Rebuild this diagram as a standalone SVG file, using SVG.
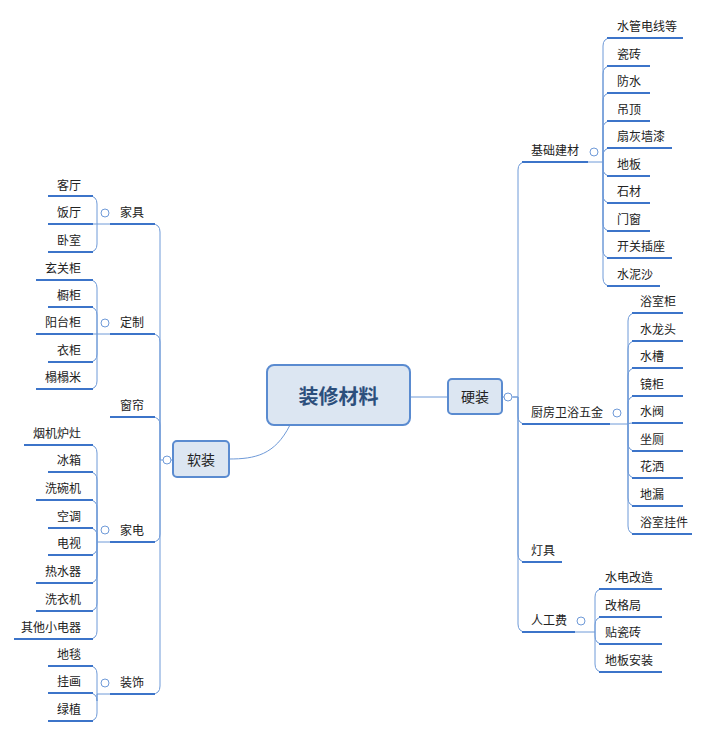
<svg xmlns="http://www.w3.org/2000/svg" width="710" height="736" viewBox="0 0 710 736">
<style>
text{font-family:"Noto Sans CJK SC","Liberation Sans",sans-serif;font-size:12px;fill:#222}
.l{text-anchor:end}
.c{fill:none;stroke:#6f9ad8;stroke-width:1}
.u{fill:none;stroke:#3c74c9;stroke-width:2}
.o{fill:#fff;stroke:#6f9ad8;stroke-width:1}
.box{fill:#dce6f2;stroke:#5a8bd0;stroke-width:2}
</style>
<rect width="710" height="736" fill="#fff"/>
<g id="connectors">
<path class="c" d="M410,397 H448"/>
<path class="c" d="M290,425 C275,455 255,459 229,459"/>
<path class="c" d="M502,397 H518"/>
<path class="c" d="M513,397 H518 V170 Q518,162 526,162"/>
<path class="c" d="M518,397 V416 Q518,424 526,424"/>
<path class="c" d="M518,397 V554 Q518,562 526,562"/>
<path class="c" d="M518,397 V624 Q518,632 526,632"/>
<path class="c" d="M588,162 H603 V46 Q603,38 611,38"/>
<path class="c" d="M603,162 V74 Q603,66 611,66"/>
<path class="c" d="M603,162 V101 Q603,93 611,93"/>
<path class="c" d="M603,162 V129 Q603,121 611,121"/>
<path class="c" d="M603,162 V156 Q603,148 611,148"/>
<path class="c" d="M603,162 V168 Q603,176 611,176"/>
<path class="c" d="M603,162 V195 Q603,203 611,203"/>
<path class="c" d="M603,162 V223 Q603,231 611,231"/>
<path class="c" d="M603,162 V250 Q603,258 611,258"/>
<path class="c" d="M603,162 V278 Q603,286 611,286"/>
<path class="c" d="M610,424 H628 V321 Q628,313 636,313"/>
<path class="c" d="M628,424 V349 Q628,341 636,341"/>
<path class="c" d="M628,424 V376 Q628,368 636,368"/>
<path class="c" d="M628,424 V404 Q628,396 636,396"/>
<path class="c" d="M628,424 Q628,423 636,423"/>
<path class="c" d="M628,424 V443 Q628,451 636,451"/>
<path class="c" d="M628,424 V470 Q628,478 636,478"/>
<path class="c" d="M628,424 V498 Q628,506 636,506"/>
<path class="c" d="M628,424 V526 Q628,534 636,534"/>
<path class="c" d="M575,632 H595 V597 Q595,589 603,589"/>
<path class="c" d="M595,632 V625 Q595,617 603,617"/>
<path class="c" d="M595,632 V636 Q595,644 603,644"/>
<path class="c" d="M595,632 V664 Q595,672 603,672"/>
<path class="c" d="M173,460 H160 V232 Q160,224 152,224"/>
<path class="c" d="M160,460 V342 Q160,334 152,334"/>
<path class="c" d="M160,460 V425 Q160,417 152,417"/>
<path class="c" d="M160,460 V534 Q160,542 152,542"/>
<path class="c" d="M160,460 V686 Q160,694 152,694"/>
<path class="c" d="M110,224 H97 V204 Q97,196 89,196"/>
<path class="c" d="M97,224 Q97,224 89,224"/>
<path class="c" d="M97,224 V244 Q97,252 89,252"/>
<path class="c" d="M110,334 H97 V288 Q97,280 89,280"/>
<path class="c" d="M97,334 V315 Q97,307 89,307"/>
<path class="c" d="M97,334 H89"/>
<path class="c" d="M97,334 V354 Q97,362 89,362"/>
<path class="c" d="M97,334 V381 Q97,389 89,389"/>
<path class="c" d="M110,542 H97 V453 Q97,445 89,445"/>
<path class="c" d="M97,542 V480 Q97,472 89,472"/>
<path class="c" d="M97,542 V508 Q97,500 89,500"/>
<path class="c" d="M97,542 V536 Q97,528 89,528"/>
<path class="c" d="M97,542 V547 Q97,555 89,555"/>
<path class="c" d="M97,542 V575 Q97,583 89,583"/>
<path class="c" d="M97,542 V603 Q97,611 89,611"/>
<path class="c" d="M97,542 V631 Q97,639 89,639"/>
<path class="c" d="M110,694 H97 V674 Q97,666 89,666"/>
<path class="c" d="M97,694 V701 Q97,693 89,693"/>
<path class="c" d="M97,694 V713 Q97,721 89,721"/>
</g>
<g id="center"><rect class="box" x="267" y="365" width="143" height="60" rx="7" stroke-width="4"/><text x="338.5" y="404" text-anchor="middle" style="font-size:20px;font-weight:bold;fill:#2c4f7c">装修材料</text></g>
<g id="hard"><rect class="box" x="448" y="379" width="54" height="35" rx="4"/><text x="475" y="402" text-anchor="middle" style="font-size:14px">硬装</text><circle class="o" cx="508" cy="397" r="4"/></g>
<g id="soft"><rect class="box" x="173" y="441" width="56" height="36" rx="4"/><text x="201" y="465" text-anchor="middle" style="font-size:14px">软装</text><circle class="o" cx="167" cy="460" r="4"/></g>
<g id="right-mid">
<path class="u" d="M522,162H588M522,424H610M522,562H562M522,632H575"/>
<text x="531" y="155">基础建材</text><circle class="o" cx="594" cy="152" r="4"/>
<text x="531" y="417">厨房卫浴五金</text><circle class="o" cx="617" cy="413" r="4"/>
<text x="531" y="555">灯具</text>
<text x="531" y="625">人工费</text><circle class="o" cx="581" cy="621" r="4"/>
</g>
<g id="right-leaves">
<path class="u" d="M607,38H683M607,66H650M607,93H650M607,121H650M607,148H672M607,176H650M607,203H650M607,231H650M607,258H672M607,286H660"/>
<text x="617" y="31">水管电线等</text><text x="617" y="59">瓷砖</text><text x="617" y="86">防水</text><text x="617" y="114">吊顶</text><text x="617" y="141">扇灰墙漆</text><text x="617" y="169">地板</text><text x="617" y="196">石材</text><text x="617" y="224">门窗</text><text x="617" y="251">开关插座</text><text x="617" y="279">水泥沙</text>
<path class="u" d="M632,313H683M632,341H683M632,368H683M632,396H683M632,423H683M632,451H683M632,478H683M632,506H683M632,534H692"/>
<text x="640" y="306">浴室柜</text><text x="640" y="334">水龙头</text><text x="640" y="361">水槽</text><text x="640" y="389">镜柜</text><text x="640" y="416">水阀</text><text x="640" y="444">坐厕</text><text x="640" y="471">花洒</text><text x="640" y="499">地漏</text><text x="640" y="527">浴室挂件</text>
<path class="u" d="M599,589H662M599,617H662M599,644H662M599,672H662"/>
<text x="605" y="582">水电改造</text><text x="605" y="610">改格局</text><text x="605" y="637">贴瓷砖</text><text x="605" y="665">地板安装</text>
</g>
<g id="left-mid">
<path class="u" d="M110,224H155M110,334H155M110,417H155M110,542H155M110,694H155"/>
<text x="120" y="217">家具</text><circle class="o" cx="105" cy="213" r="4"/>
<text x="120" y="327">定制</text><circle class="o" cx="105" cy="323" r="4"/>
<text x="120" y="410">窗帘</text>
<text x="120" y="535">家电</text><circle class="o" cx="105" cy="530" r="4"/>
<text x="120" y="687">装饰</text><circle class="o" cx="105" cy="683" r="4"/>
</g>
<g id="left-leaves">
<path class="u" d="M48,196H93M48,224H93M48,252H93M36,280H93M48,307H93M36,334H93M48,362H93M36,389H93M24,445H93M48,472H93M36,500H93M48,528H93M48,555H93M36,583H93M36,611H93M14,639H93M48,666H93M48,693H93M48,721H93"/>
<text class="l" x="81" y="190">客厅</text><text class="l" x="81" y="217">饭厅</text><text class="l" x="81" y="245">卧室</text>
<text class="l" x="81" y="273">玄关柜</text><text class="l" x="81" y="300">橱柜</text><text class="l" x="81" y="327">阳台柜</text><text class="l" x="81" y="355">衣柜</text><text class="l" x="81" y="382">榻榻米</text>
<text class="l" x="81" y="438">烟机炉灶</text><text class="l" x="81" y="465">冰箱</text><text class="l" x="81" y="493">洗碗机</text><text class="l" x="81" y="521">空调</text><text class="l" x="81" y="548">电视</text><text class="l" x="81" y="576">热水器</text><text class="l" x="81" y="604">洗衣机</text><text class="l" x="81" y="632">其他小电器</text>
<text class="l" x="81" y="659">地毯</text><text class="l" x="81" y="686">挂画</text><text class="l" x="81" y="714">绿植</text>
</g>
</svg>
